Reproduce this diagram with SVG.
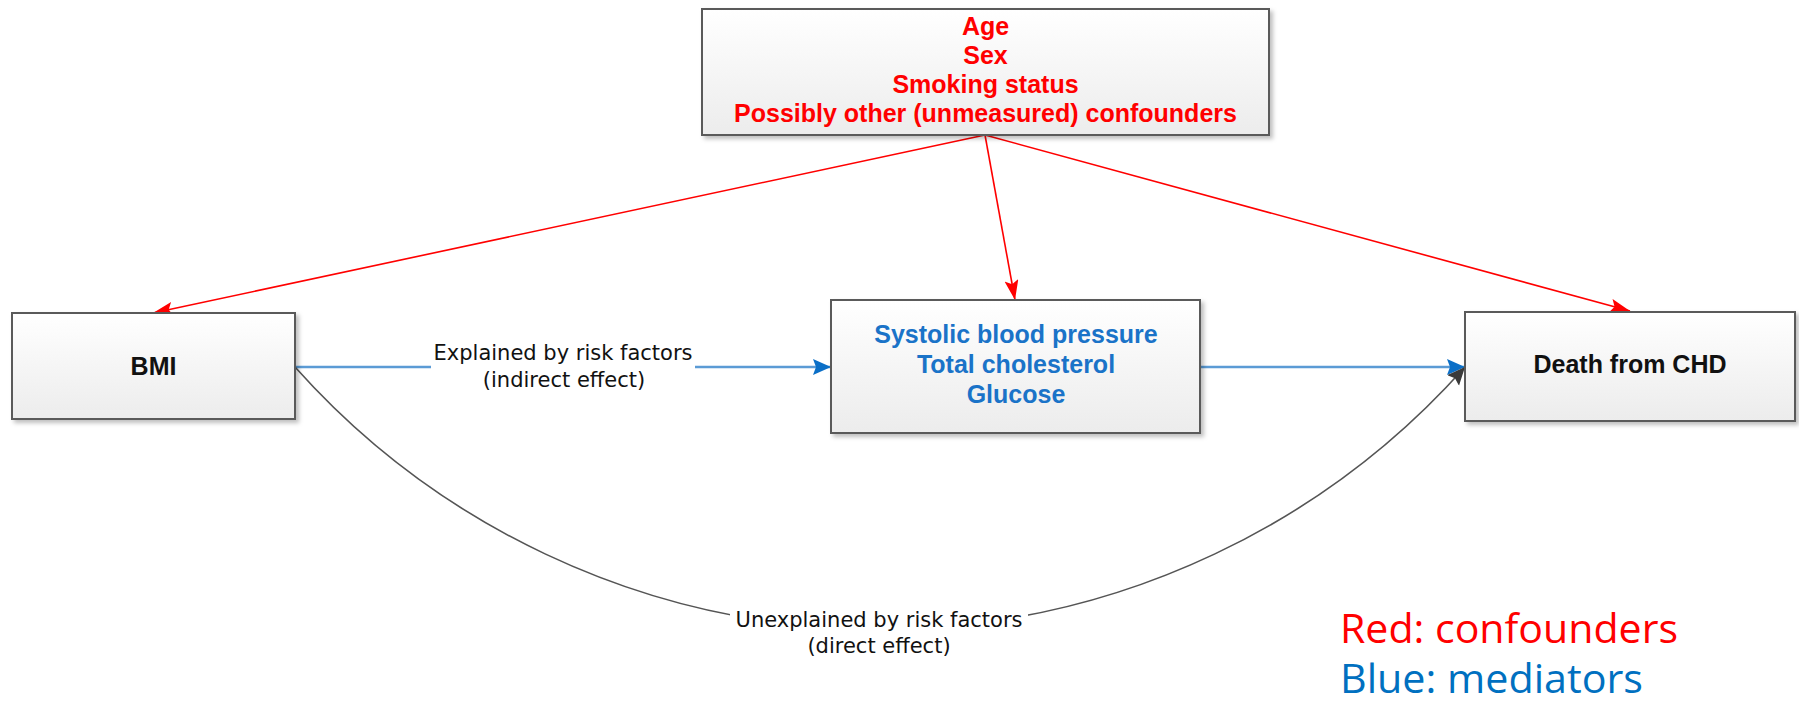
<svg xmlns="http://www.w3.org/2000/svg" width="1799" height="705" viewBox="0 0 1799 705">
<style>
.box{stroke:#5a5a5a;stroke-width:2;fill:url(#g)}
.bt{font-family:"Liberation Sans",Arial,sans-serif;font-weight:bold;font-size:25px;text-anchor:middle}
.lbl{font-family:"DejaVu Sans",Verdana,sans-serif;font-size:21px;fill:#111;text-anchor:middle}
.red{stroke:#ff0000;stroke-width:1.6;fill:none}
.blue{stroke:#5b9bd5;stroke-width:2.5;fill:none}
.gray{stroke:#555;stroke-width:1.6;fill:none}
.leg{font-family:"Open Sans","Noto Sans",sans-serif;font-size:40px}
</style>
<defs>
<linearGradient id="g" x1="0" y1="0" x2="0" y2="1"><stop offset="0" stop-color="#ffffff"/><stop offset="1" stop-color="#ececec"/></linearGradient>
<filter id="sh" x="-5%" y="-5%" width="115%" height="125%"><feDropShadow dx="3" dy="3" stdDeviation="2" flood-color="#000" flood-opacity="0.25"/></filter>
<marker id="ar" markerUnits="userSpaceOnUse" markerWidth="22" markerHeight="16" refX="20" refY="7" orient="auto"><path d="M0,0 L20,7 L0,14 L4,7 z" fill="#ff0000"/></marker>
<marker id="ab" markerUnits="userSpaceOnUse" markerWidth="20" markerHeight="18" refX="18" refY="8" orient="auto"><path d="M0,0 L18,8 L0,16 L3,8 z" fill="#0b6fc7"/></marker>
<marker id="ag" markerUnits="userSpaceOnUse" markerWidth="20" markerHeight="18" refX="18" refY="8" orient="auto"><path d="M0,0 L18,8 L0,16 L3,8 z" fill="#3a3a3a"/></marker>
</defs>
<rect width="1799" height="705" fill="#fff"/>
<g id="connectors">
<line class="red" x1="985" y1="135" x2="153" y2="313" marker-end="url(#ar)"/>
<line class="red" x1="985" y1="135" x2="1015" y2="300" marker-end="url(#ar)"/>
<line class="red" x1="985" y1="135" x2="1630" y2="311" marker-end="url(#ar)"/>
<line class="blue" x1="295" y1="367" x2="831" y2="367" marker-end="url(#ab)"/>
<line class="blue" x1="1200" y1="367" x2="1465" y2="367" marker-end="url(#ab)"/>
<path class="gray" d="M295,367 A784,784 0 0 0 1465,367" marker-end="url(#ag)"/>
<rect x="431" y="342" width="264" height="52" fill="#fff"/>
<text class="lbl" x="563" y="360">Explained by risk factors</text>
<text class="lbl" x="564" y="387">(indirect effect)</text>
<rect x="730" y="606" width="298" height="54" fill="#fff"/>
<text class="lbl" x="879" y="627">Unexplained by risk factors</text>
<text class="lbl" x="879" y="653">(direct effect)</text>
</g>
<g id="confounders">
<rect class="box" x="702" y="9" width="567" height="126" filter="url(#sh)"/>
<text class="bt" fill="#ff0000" x="985.5" y="35">Age</text>
<text class="bt" fill="#ff0000" x="985.5" y="64">Sex</text>
<text class="bt" fill="#ff0000" x="985.5" y="93">Smoking status</text>
<text class="bt" fill="#ff0000" x="985.5" y="122">Possibly other (unmeasured) confounders</text>
</g>
<g id="bmi">
<rect class="box" x="12" y="313" width="283" height="106" filter="url(#sh)"/>
<text class="bt" fill="#111" x="153.5" y="375">BMI</text>
</g>
<g id="mediators">
<rect class="box" x="831" y="300" width="369" height="133" filter="url(#sh)"/>
<text class="bt" fill="#1a73c8" x="1016" y="343">Systolic blood pressure</text>
<text class="bt" fill="#1a73c8" x="1016" y="373">Total cholesterol</text>
<text class="bt" fill="#1a73c8" x="1016" y="403">Glucose</text>
</g>
<g id="death">
<rect class="box" x="1465" y="312" width="330" height="109" filter="url(#sh)"/>
<text class="bt" fill="#111" x="1630" y="373">Death from CHD</text>
</g>
<g id="legend">
<text class="leg" fill="#ff0000" x="1340" y="643" textLength="338" lengthAdjust="spacingAndGlyphs">Red: confounders</text>
<text class="leg" fill="#0070c0" x="1340" y="693" textLength="303" lengthAdjust="spacingAndGlyphs">Blue: mediators</text>
</g>
</svg>
